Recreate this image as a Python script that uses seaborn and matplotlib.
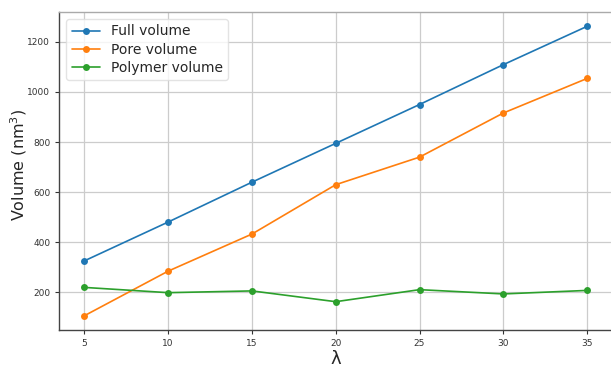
import matplotlib
matplotlib.use("Agg")
import matplotlib.pyplot as plt
import seaborn as sns
import pandas as pd

# Volume components as a function of lambda
lam = [5, 10, 15, 20, 25, 30, 35]
full_volume = [326, 481, 640, 795, 950, 1109, 1262]
pore_volume = [107, 285, 433, 630, 740, 916, 1054]
polymer_volume = [220, 199, 206, 163, 211, 194, 208]
series_names = ["Full volume", "Pore volume", "Polymer volume"]

df = pd.DataFrame({
    "lam": lam * 3,
    "volume": full_volume + pore_volume + polymer_volume,
    "series": [s for s in series_names for _ in lam],
})

sns.set_style("ticks")
plt.rcParams["font.family"] = ["DejaVu Sans"]

fig = plt.figure(figsize=(6.11, 3.71), dpi=100)
ax = fig.add_axes([0.097, 0.11, 0.905, 0.858])

palette = ["#1f77b4", "#ff7f0e", "#2ca02c"]
sns.lineplot(data=df, x="lam", y="volume", hue="series", hue_order=series_names,
             palette=palette, marker="o", markersize=5, markeredgewidth=0,
             linewidth=1.2, ax=ax)

ax.set_xticks(lam)
ax.set_yticks([200, 400, 600, 800, 1000, 1200])
ax.tick_params(labelsize=6.5, colors="#333333", length=3, width=0.8)
ax.grid(True, color="#cccccc", linewidth=0.9)
ax.set_axisbelow(True)
for sp in ax.spines.values():
    sp.set_color("#444444")
    sp.set_linewidth(1.0)
ax.spines["top"].set_color("#aaaaaa")

ax.set_xlabel("λ", fontsize=13, labelpad=1)
ax.set_ylabel("Volume (nm$^3$)", fontsize=11.5, labelpad=1)
ax.yaxis.set_label_coords(-0.055, 0.52)

leg = ax.legend(loc="upper left", fontsize=10, frameon=True,
                handlelength=2.0, borderpad=0.4, labelspacing=0.3)
leg.get_frame().set_edgecolor("#dddddd")

fig.savefig("out.png", dpi=100)
